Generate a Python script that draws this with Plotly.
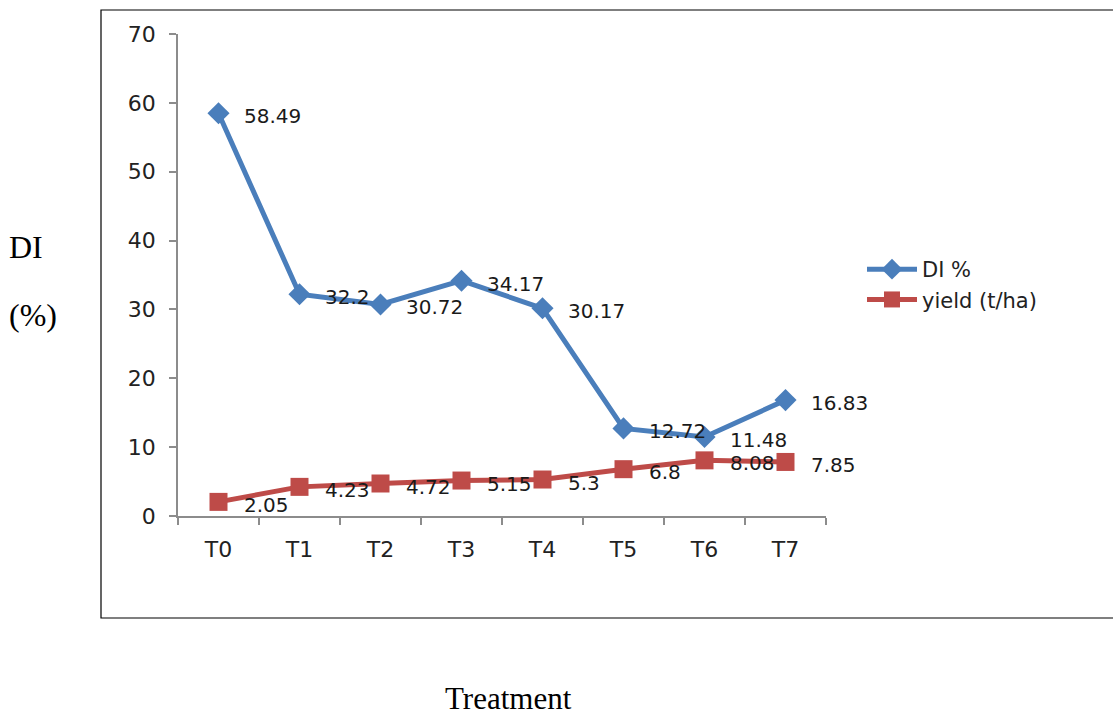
import plotly.graph_objects as go

# Treatment levels and measured values
treatments = ["T0", "T1", "T2", "T3", "T4", "T5", "T6", "T7"]
di_percent = [58.49, 32.2, 30.72, 34.17, 30.17, 12.72, 11.48, 16.83]
yield_t_ha = [2.05, 4.23, 4.72, 5.15, 5.3, 6.8, 8.08, 7.85]
y_ticks = [0, 10, 20, 30, 40, 50, 60, 70]

W, H = 1113, 717
L, R, T, B = 178, 826, 34, 516  # plot area in pixels
FONT = "DejaVu Sans"
SERIF = "Liberation Serif"
BLUE = "#4a7ebb"
RED = "#be4b48"


def px_x(x):
    return (x - L) / (R - L)


def px_y(y):
    return (B - y) / (B - T)


fig = go.Figure()

fig.add_trace(go.Scatter(
    x=treatments, y=di_percent, name="DI %",
    mode="lines+markers",
    line=dict(color=BLUE, width=5),
    marker=dict(symbol="diamond", size=17, color=BLUE),
    cliponaxis=False,
))

fig.add_trace(go.Scatter(
    x=treatments, y=yield_t_ha, name="yield (t/ha)",
    mode="lines+markers",
    line=dict(color=RED, width=5),
    marker=dict(symbol="square", size=18, color=RED),
    cliponaxis=False,
))

# value labels to the right of each point
labels = []
for series in (di_percent, yield_t_ha):
    for cat, val in zip(treatments, series):
        labels.append(dict(
            x=cat, y=val, xref="x", yref="y", text=f"{val:g}",
            showarrow=False, xanchor="left", yanchor="middle",
            xshift=23, yshift=-3,
            font=dict(family=FONT, size=20, color="#1a1a1a"),
        ))

titles = [
    dict(text="DI", xref="paper", yref="paper", x=px_x(26), y=px_y(247),
         xanchor="center", yanchor="middle", showarrow=False,
         font=dict(family=SERIF, size=32, color="#000000")),
    dict(text="(%)", xref="paper", yref="paper", x=px_x(33), y=px_y(315),
         xanchor="center", yanchor="middle", showarrow=False,
         font=dict(family=SERIF, size=32, color="#000000")),
    dict(text="Treatment", xref="paper", yref="paper", x=px_x(508), y=px_y(698),
         xanchor="center", yanchor="middle", showarrow=False, borderpad=0,
         font=dict(family=SERIF, size=31, color="#000000")),
]

fig.update_layout(
    width=W, height=H,
    margin=dict(l=L, r=W - R, t=T, b=H - B),
    paper_bgcolor="white", plot_bgcolor="white",
    font=dict(family=FONT, size=20, color="#222222"),
    showlegend=True,
    legend=dict(
        x=px_x(862), y=px_y(249), xanchor="left", yanchor="top",
        font=dict(family=FONT, size=21, color="#222222"),
        itemwidth=50, tracegroupgap=0, bgcolor="rgba(0,0,0,0)",
    ),
    xaxis=dict(
        type="category", range=[-0.5, 7.5],
        showline=True, linecolor="#8c8c8c", linewidth=1.5,
        ticks="outside", tickson="boundaries", ticklen=7,
        tickcolor="#8c8c8c", tickwidth=1.5,
        showgrid=False, zeroline=False,
        ticklabelstandoff=13,
        tickfont=dict(family=FONT, size=22, color="#222222"),
    ),
    yaxis=dict(
        range=[0, 70], tickvals=y_ticks,
        showline=True, linecolor="#8c8c8c", linewidth=1.5,
        ticks="outside", ticklen=7, tickcolor="#8c8c8c", tickwidth=1.5,
        showgrid=False, zeroline=False,
        ticklabelstandoff=9,
        tickfont=dict(family=FONT, size=22, color="#222222"),
    ),
    shapes=[dict(
        type="rect", xref="paper", yref="paper",
        x0=px_x(101), x1=px_x(1125), y0=px_y(618), y1=px_y(10),
        line=dict(color="#000000", width=1.2), fillcolor="rgba(0,0,0,0)",
        layer="below",
    )],
    annotations=labels + titles,
)

fig.write_html("out.html")
